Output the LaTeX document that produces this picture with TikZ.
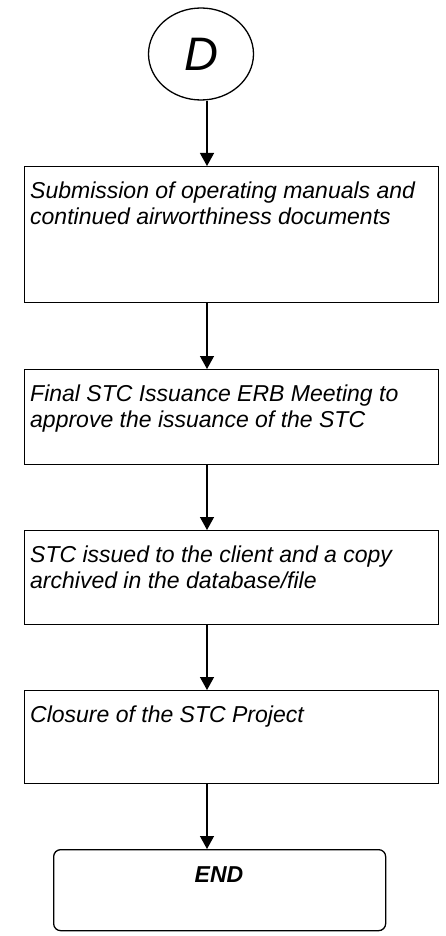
\documentclass[tikz,border=0pt]{standalone}
\usepackage{fontspec}
\setmainfont{Liberation Sans}
\usetikzlibrary{arrows.meta,positioning,shapes.geometric}
\tikzset{
  stepbox/.style={draw, line width=1.3pt, minimum width=414pt, anchor=north west, inner sep=0pt},
  steptext/.style={anchor=north west, align=left, inner sep=0pt, font=\fontsize{23}{26}\selectfont\itshape},
  flow/.style={-{Triangle[length=13pt,width=14pt]}, line width=1.3pt},
}

\begin{document}
\begin{tikzpicture}[x=1pt,y=-1pt]
  \useasboundingbox (0,0) rectangle (446,936);
  % Off-page connector
  \node[draw, ellipse, line width=1.3pt, minimum width=105pt, minimum height=92pt,
        font=\fontsize{47}{47}\selectfont\itshape] (conD) at (201,54) {D};
  \coordinate (axis) at (207,0);
  % Step boxes
  \node[stepbox, minimum height=136pt] (manuals) at (24,166) {};
  \node[stepbox, minimum height=95pt] (erb) at (24,369) {};
  \node[stepbox, minimum height=94pt] (issued) at (24,530) {};
  \node[stepbox, minimum height=93pt] (closure) at (24,690) {};
  \node[draw, line width=1.3pt, rounded corners=7pt, minimum width=332pt, minimum height=81pt,
        anchor=north west] (finish) at (53,849) {};
  % Texts
  \node[steptext] (manualsT) at ([xshift=6pt,yshift=-16pt]manuals.north west)
    {Submission of operating manuals and\\continued airworthiness documents};
  \node[steptext] (erbT) at ([xshift=6pt,yshift=-16pt]erb.north west)
    {Final STC Issuance ERB Meeting to\\approve the issuance of the STC};
  \node[steptext] (issuedT) at ([xshift=6pt,yshift=-16pt]issued.north west)
    {STC issued to the client and a copy\\archived in the database/file};
  \node[steptext] (closureT) at ([xshift=6pt,yshift=-16pt]closure.north west)
    {Closure of the STC Project};
  \node[font=\fontsize{23}{26}\selectfont\bfseries\itshape] (finishT) at (219,875) {END};
  % Arrows
  \draw[flow] (conD.south -| axis) -- (manuals.north -| axis);
  \draw[flow] (manuals.south -| axis) -- (erb.north -| axis);
  \draw[flow] (erb.south -| axis) -- (issued.north -| axis);
  \draw[flow] (issued.south -| axis) -- (closure.north -| axis);
  \draw[flow] (closure.south -| axis) -- (finish.north -| axis);
\end{tikzpicture}
\end{document}
